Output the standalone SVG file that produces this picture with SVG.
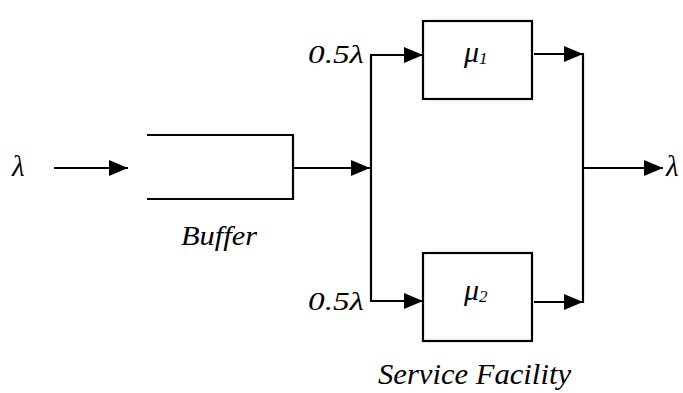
<svg xmlns="http://www.w3.org/2000/svg" width="683" height="393" viewBox="0 0 683 393">
  <style>
    .ln { fill: none; stroke: #000; stroke-width: 2.2; }
    .bx { fill: #fff; stroke: #000; stroke-width: 2.2; }
    .tx { font-family: "Times New Roman", "Liberation Serif", Times, serif; font-style: italic; font-size: 26px; fill: #000; }
  </style>
  <defs>
    <marker id="head" markerUnits="userSpaceOnUse" viewBox="0 0 19 16" refX="19" refY="8" markerWidth="19" markerHeight="16" orient="auto">
      <path d="M0,0 L19,8 L0,16 z" fill="#000"/>
    </marker>
  </defs>
  <rect width="683" height="393" fill="#fff"/>

  <!-- queue buffer -->
  <g id="buffer">
    <path class="ln" d="M147,135 H293 V199 H147"/>
    <text class="tx" x="181" y="245" style="font-size:27px" textLength="76" lengthAdjust="spacingAndGlyphs">Buffer</text>
  </g>

  <!-- servers -->
  <g id="server1">
    <rect class="bx" x="423" y="21" width="109" height="78"/>
    <text class="tx" x="464" y="62" style="font-size:30px">μ<tspan style="font-size:17px" dy="2">1</tspan></text>
  </g>
  <g id="server2">
    <rect class="bx" x="423" y="253" width="109" height="88"/>
    <text class="tx" x="464" y="300" style="font-size:30px">μ<tspan style="font-size:17px" dy="2">2</tspan></text>
  </g>
  <text class="tx" x="378" y="384" style="font-size:30px" textLength="193" lengthAdjust="spacingAndGlyphs">Service Facility</text>

  <!-- rate labels -->
  <g id="labels">
    <text class="tx" x="12" y="176" style="font-size:29px">λ</text>
    <text class="tx" x="308" y="63" textLength="56" lengthAdjust="spacingAndGlyphs">0.5λ</text>
    <text class="tx" x="308" y="310" textLength="56" lengthAdjust="spacingAndGlyphs">0.5λ</text>
    <text class="tx" x="666" y="176" style="font-size:29px">λ</text>
  </g>

  <!-- connectors -->
  <g id="connectors">
    <path class="ln" d="M54,168 H128" marker-end="url(#head)"/>
    <path class="ln" d="M293,168 H370" marker-end="url(#head)"/>
    <path class="ln" d="M371,54 V302"/>
    <path class="ln" d="M370,55 H423" marker-end="url(#head)"/>
    <path class="ln" d="M370,301 H423" marker-end="url(#head)"/>
    <path class="ln" d="M534,54 H583" marker-end="url(#head)"/>
    <path class="ln" d="M534,302 H583" marker-end="url(#head)"/>
    <path class="ln" d="M583,53 V303"/>
    <path class="ln" d="M583,168 H663" marker-end="url(#head)"/>
  </g>
</svg>
